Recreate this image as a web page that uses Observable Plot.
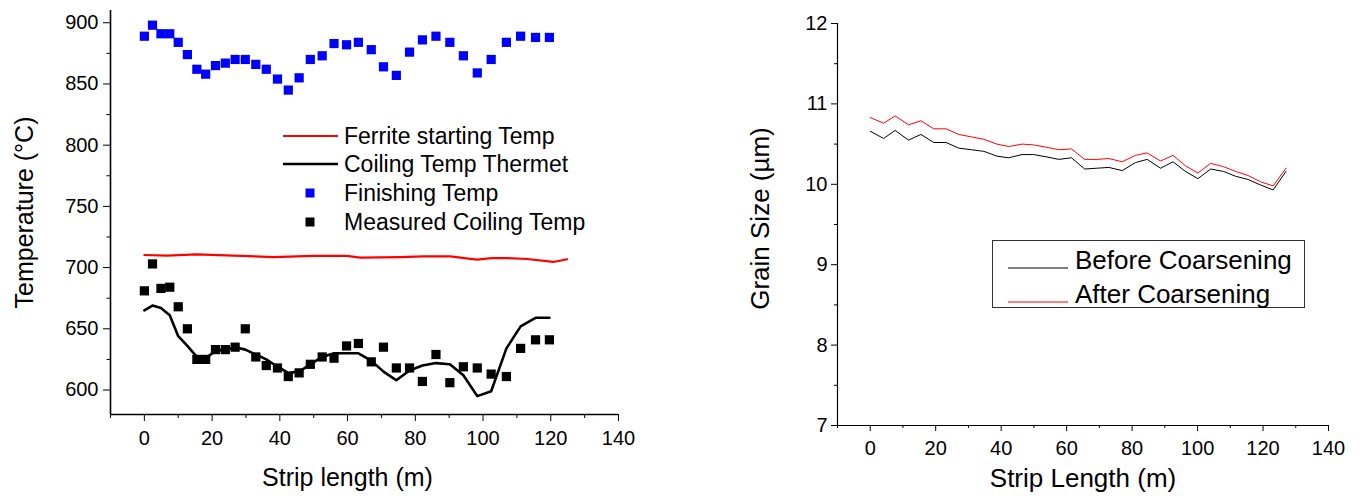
<!DOCTYPE html>
<html><head><meta charset="utf-8">
<script src="https://cdn.jsdelivr.net/npm/d3@7"></script>
<script src="https://cdn.jsdelivr.net/npm/@observablehq/plot@0.6"></script>
<style>
body{margin:0;background:#fff;font-family:"Liberation Sans",Arial,sans-serif;}
#wrap{position:relative;width:1372px;height:504px;overflow:hidden;background:#fff;}
.panel{position:absolute;top:0;}
.leg{position:absolute;font-family:"Liberation Sans",Arial,sans-serif;color:#000;white-space:nowrap;}
</style></head>
<body><div id="wrap"></div>
<script>
// ---- Left panel data (Strip length m, Temperature °C)
const stripPos = [0,2.4,4.9,7.5,10,12.7,15.5,18.1,21,23.9,26.8,29.8,32.9,36,39.3,42.5,45.7,49,52.5,56,59.7,63.2,67,70.6,74.4,78.3,82.1,86.1,90.2,94.2,98.3,102.4,106.9,111.1,115.5,119.6];
const finishingTemp = [889,898,891,891,884,874,862,858,865,867,870,870,866,862,854,845,855,870,873,883,882,884,878,864,857,876,886,889,884,873,859,870,884,889,888,888];
const measuredCoilingTemp = [681,703,683,684,668,650,625,625,633,633,635,650,627,620,618,611,614,621,627,626,636,638,623,635,618,618,607,629,606,619,618,613,611,634,641,641];
const thermetCoilingTemp = [665,669,667,661,644,636,627,626,632,633,635,633,629,625,619,614,615,621,627,630,630,630,624,615,608,616,620,622,621,612,595,599,634,652,659,659];
const ferritePos = [0,6.6,15.5,26.3,38.1,49.9,59.8,63.7,75.5,82.4,90.3,98.2,102.6,107,113,120.8,124.8];
const ferriteTemp = [710.3,709.8,710.8,709.8,708.6,709.5,709.5,708.1,708.6,709.2,709.2,706.5,707.8,707.8,707,704.6,706.8];
const leftYMajor = [600,650,700,750,800,850,900];
const leftYMinor = [625,675,725,775,825,875];
const xMajor = [0,20,40,60,80,100,120,140];
const xMinor = [-10,10,30,50,70,90,110,130];

// ---- Right panel data (Strip Length m, Grain Size µm)
const grainPos = [0,4.1,7.6,11.7,15.5,19.4,23.2,27,30.9,34.7,38.7,42.3,46.4,49.9,54,57.6,61.5,65.5,69.2,72.9,77,81,84.6,88.7,92.5,96.3,100.1,104,107.9,111.6,115.4,119.3,123.1,127];
const beforeCoarsening = [10.66,10.57,10.67,10.55,10.62,10.52,10.52,10.45,10.43,10.41,10.35,10.33,10.37,10.37,10.34,10.31,10.33,10.19,10.20,10.21,10.17,10.27,10.31,10.20,10.28,10.16,10.07,10.19,10.16,10.10,10.06,9.99,9.93,10.16];
const afterCoarsening = [10.83,10.76,10.85,10.74,10.79,10.69,10.69,10.62,10.59,10.56,10.50,10.47,10.50,10.49,10.46,10.43,10.44,10.31,10.31,10.32,10.28,10.36,10.39,10.29,10.36,10.23,10.14,10.26,10.22,10.16,10.11,10.03,9.98,10.20];
const rightYMajor = [7,8,9,10,11,12];
const rightYMinor = [7.5,8.5,9.5,10.5,11.5];

const FONT = '"Liberation Sans", Arial, sans-serif';
const wrap = document.getElementById('wrap');
const intFmt = d3.format("d");

const finishing = stripPos.map((x,i)=>({x, y: finishingTemp[i]}));
const measured = stripPos.map((x,i)=>({x, y: measuredCoilingTemp[i]}));
const thermet = stripPos.map((x,i)=>({x, y: thermetCoilingTemp[i]}));
const ferrite = ferritePos.map((x,i)=>({x, y: ferriteTemp[i]}));

const left = Plot.plot({
  width: 686, height: 504,
  marginLeft: 110, marginRight: 68, marginTop: 10, marginBottom: 90,
  x: {domain: [-10, 140]},
  y: {domain: [580, 910]},
  style: {fontFamily: FONT, fontSize: "20px", color: "#000", background: "#fff", overflow: "visible"},
  marks: [
    Plot.axisY(leftYMajor, {tickSize: 7, tickPadding: 5, label: null, fontSize: 20, tickFormat: intFmt}),
    Plot.axisY(leftYMinor, {tickSize: 3.5, tickFormat: () => "", label: null}),
    Plot.axisX(xMajor, {tickSize: 7, tickPadding: 9, label: null, fontSize: 20, tickFormat: intFmt}),
    Plot.axisX(xMinor, {tickSize: 4, tickFormat: () => "", label: null}),
    Plot.ruleX([-10], {stroke: "#000", strokeWidth: 1.6}),
    Plot.ruleY([580], {stroke: "#000", strokeWidth: 1.6}),
    Plot.line(ferrite, {x: "x", y: "y", stroke: "#ff0000", strokeWidth: 2.2}),
    Plot.line(thermet, {x: "x", y: "y", stroke: "#000", strokeWidth: 2.6}),
    Plot.dot(finishing, {x: "x", y: "y", symbol: "square", fill: "#0000ff", r: 5.2}),
    Plot.dot(measured, {x: "x", y: "y", symbol: "square", fill: "#000", r: 5.2}),
    Plot.text(["Strip length (m)"], {frameAnchor: "bottom", dx: -17, dy: 71, fontSize: 25, fill: "#000"}),
    Plot.text(["Temperature (°C)"], {frameAnchor: "left", textAnchor: "middle", dx: -86, rotate: -90, fontSize: 25, fill: "#000"})
  ]
});
const lp = document.createElement('div'); lp.className = 'panel'; lp.style.left = '0px';
lp.appendChild(left); wrap.appendChild(lp);

const before = grainPos.map((x,i)=>({x, y: beforeCoarsening[i]}));
const after = grainPos.map((x,i)=>({x, y: afterCoarsening[i]}));

const right = Plot.plot({
  width: 686, height: 504,
  marginLeft: 151, marginRight: 44, marginTop: 23, marginBottom: 79,
  x: {domain: [-10, 140]},
  y: {domain: [7, 12]},
  style: {fontFamily: FONT, fontSize: "20px", color: "#000", background: "#fff", overflow: "visible"},
  marks: [
    Plot.axisY(rightYMajor, {tickSize: 6, tickPadding: 4, label: null, fontSize: 20, tickFormat: intFmt}),
    Plot.axisY(rightYMinor, {tickSize: 3, tickFormat: () => "", label: null}),
    Plot.axisX(xMajor, {tickSize: 6, tickPadding: 9, label: null, fontSize: 20, tickFormat: intFmt}),
    Plot.axisX(xMinor, {tickSize: 3, tickFormat: () => "", label: null}),
    Plot.ruleX([-10], {stroke: "#000", strokeWidth: 1.2}),
    Plot.ruleY([7], {stroke: "#000", strokeWidth: 1.2}),
    Plot.line(before, {x: "x", y: "y", stroke: "#000", strokeWidth: 1}),
    Plot.line(after, {x: "x", y: "y", stroke: "#ff0000", strokeWidth: 1}),
    Plot.text(["Strip Length (m)"], {frameAnchor: "bottom", dy: 61, fontSize: 26, fill: "#000"}),
    Plot.text(["Grain Size (\u00b5m)"], {frameAnchor: "left", textAnchor: "middle", dx: -77, dy: -6, rotate: -90, fontSize: 26, fill: "#000"})
  ]
});
const rp = document.createElement('div'); rp.className = 'panel'; rp.style.left = '686px';
rp.appendChild(right); wrap.appendChild(rp);

// ---- Legends (overlay)
function addLeg(html, x, y, w, h, extra) {
  const d = document.createElement('div'); d.className = 'leg';
  d.style.left = x + 'px'; d.style.top = y + 'px'; d.style.width = w + 'px'; d.style.height = h + 'px';
  if (extra) Object.assign(d.style, extra);
  d.innerHTML = html; wrap.appendChild(d); return d;
}
const leftLegend = [
  {label: "Ferrite starting Temp", type: "line", color: "#ff0000", w: 2.2},
  {label: "Coiling Temp Thermet", type: "line", color: "#000", w: 2.6},
  {label: "Finishing Temp", type: "square", color: "#0000ff"},
  {label: "Measured Coiling Temp", type: "square", color: "#000"}
];
const leftRowY = [136, 164, 193, 222];
leftLegend.forEach((it, i) => {
  const cy = leftRowY[i];
  const sw = it.type === "line"
    ? `<svg width="56" height="10" style="position:absolute;left:0;top:0"><line x1="0" x2="55" y1="5" y2="5" stroke="${it.color}" stroke-width="${it.w}"/></svg>`
    : `<svg width="56" height="10" style="position:absolute;left:0;top:0"><rect x="22.5" y="0.5" width="9" height="9" fill="${it.color}"/></svg>`;
  addLeg(sw, 283, cy - 5, 56, 10);
  addLeg(it.label, 344, cy - 14, 300, 28, {fontSize: "23px", lineHeight: "28px"});
});

addLeg("", 992, 240, 313, 68, {border: "1px solid #333", boxSizing: "border-box", background: "#fff"});
const rightLegend = [
  {label: "Before Coarsening", color: "#000", cy: 260},
  {label: "After Coarsening", color: "#ff0000", cy: 294}
];
rightLegend.forEach(it => {
  addLeg(`<svg width="62" height="6"><line x1="0" x2="60" y1="3" y2="3" stroke="${it.color}" stroke-width="1"/></svg>`, 1008, it.cy - 3, 62, 6);
  addLeg(it.label, 1075, it.cy - 15, 240, 30, {fontSize: "26px", lineHeight: "30px"});
});
</script>
</body></html>
